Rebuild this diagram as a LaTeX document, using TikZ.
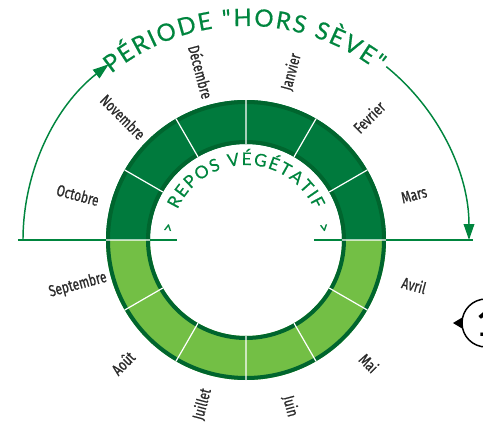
\documentclass[tikz,border=0pt]{standalone}
\usepackage{fontspec}
\setmainfont{Lato}
\newfontfamily\titlefont[FakeBold=0.5]{Lato}
\newfontfamily\monthfont[FakeStretch=0.75, FakeBold=0.8]{Fira Sans}
\usetikzlibrary{arrows.meta, decorations.text}

\definecolor{titlegreen}{HTML}{00853E}
\definecolor{ringdark}{HTML}{007A3D}
\definecolor{ringedge}{HTML}{00652E}
\definecolor{ringlight}{HTML}{73BF45}
\definecolor{monthgray}{HTML}{2B2B2B}

\begin{document}
\begin{tikzpicture}[
  x=0.75pt, y=0.75pt,
  % Month labels (radial)
  month/.style={font=\monthfont\fontsize{12}{14}\selectfont, text=monthgray, inner sep=0pt},
  % White lines between months
  divider/.style={draw=white, line width=0.9pt},
  % Ring outline
  rim/.style={draw=ringedge, line width=3pt},
  % Green baseline and period arcs
  axis/.style={draw=titlegreen, line width=1.1pt},
  period/.style={axis, -{Triangle[length=12pt, width=8pt]}},
  % Inner markers
  marker/.style={font=\titlefont\fontsize{12}{14}\selectfont, text=titlegreen, inner sep=0pt},
  % Callout on the right border
  callout/.style={draw=black, line width=1.1pt}
]
\clip (-246,-182) rectangle (237,240);

% === RING ===
\fill[ringdark] (0:140) arc[start angle=0, end angle=180, radius=140]
  -- (180:96) arc[start angle=180, end angle=0, radius=96] -- cycle;
\fill[ringlight] (0:140) arc[start angle=0, end angle=-180, radius=140]
  -- (180:96) arc[start angle=-180, end angle=0, radius=96] -- cycle;
\draw[rim] (0,0) circle[radius=138];
\draw[rim] (0,0) circle[radius=98];

% Month dividers
\draw[divider] (0:96) -- (0:140) (30:96) -- (30:140) (60:96) -- (60:140)
  (90:96) -- (90:140) (120:96) -- (120:140) (150:96) -- (150:140)
  (180:96) -- (180:140) (210:96) -- (210:140) (240:96) -- (240:140)
  (270:96) -- (270:140) (300:96) -- (300:140) (330:96) -- (330:140);

% === BASELINE ===
\draw[axis] (-228,0) -- (-140,0);
\draw[axis] (-96,0) -- (-69,0);
\draw[axis] (68,0) -- (96,0);
\draw[axis] (140,0) -- (227,0);

% === PERIOD ARCS ===
\draw[period] (180:223) arc[start angle=180, end angle=128, radius=223];
\draw[period] (51:223) arc[start angle=51, end angle=0, radius=223];

% Title along the arc
\path[decorate, decoration={text along path, text color=titlegreen,
  text={|\titlefont\fontsize{18}{20}\selectfont|PÉRIODE "HORS SÈVE"}, text align={fit to path}}]
  (129:214) arc[start angle=129, end angle=52, radius=214];

% === INNER TEXT ===
\path[decorate, decoration={text along path, text color=titlegreen,
  text={|\titlefont\fontsize{13}{15}\selectfont|REPOS VÉGÉTATIF}, text align={fit to path}}]
  (156:75) arc[start angle=156, end angle=24, radius=75];
\node[marker, rotate=81] (gauche) at (171:78) {>};
\node[marker, rotate=-81] (droite) at (9:78) {>};

% === MONTHS ===
\node[month, rotate=75] (janv) at (75:174) {Janvier};
\node[month, rotate=45] (fevr) at (45:174) {Fevrier};
\node[month, rotate=15] (mars) at (15:174) {Mars};
\node[month, rotate=-15] (avri) at (-15:174) {Avril};
\node[month, rotate=-45] (mai) at (-45:174) {Mai};
\node[month, rotate=-75] (juin) at (-75:172) {Juin};
\node[month, rotate=75] (juil) at (255:170) {Juillet};
\node[month, rotate=45] (aout) at (225:174) {Août};
\node[month, rotate=15] (sept) at (195:174) {Septembre};
\node[month, rotate=-15] (octo) at (165:174) {Octobre};
\node[month, rotate=-45] (nove) at (135:174) {Novembre};
\node[month, rotate=-75] (dece) at (105:174) {Décembre};

% === CALLOUT ===
\draw[callout] (240,-83) circle[radius=24];
\fill (207,-83) -- (217,-77) -- (217,-89) -- cycle;
\node[font=\rmfamily\bfseries\fontsize{28}{30}\selectfont, inner sep=0pt] (num) at (241,-83) {1};

\end{tikzpicture}
\end{document}
